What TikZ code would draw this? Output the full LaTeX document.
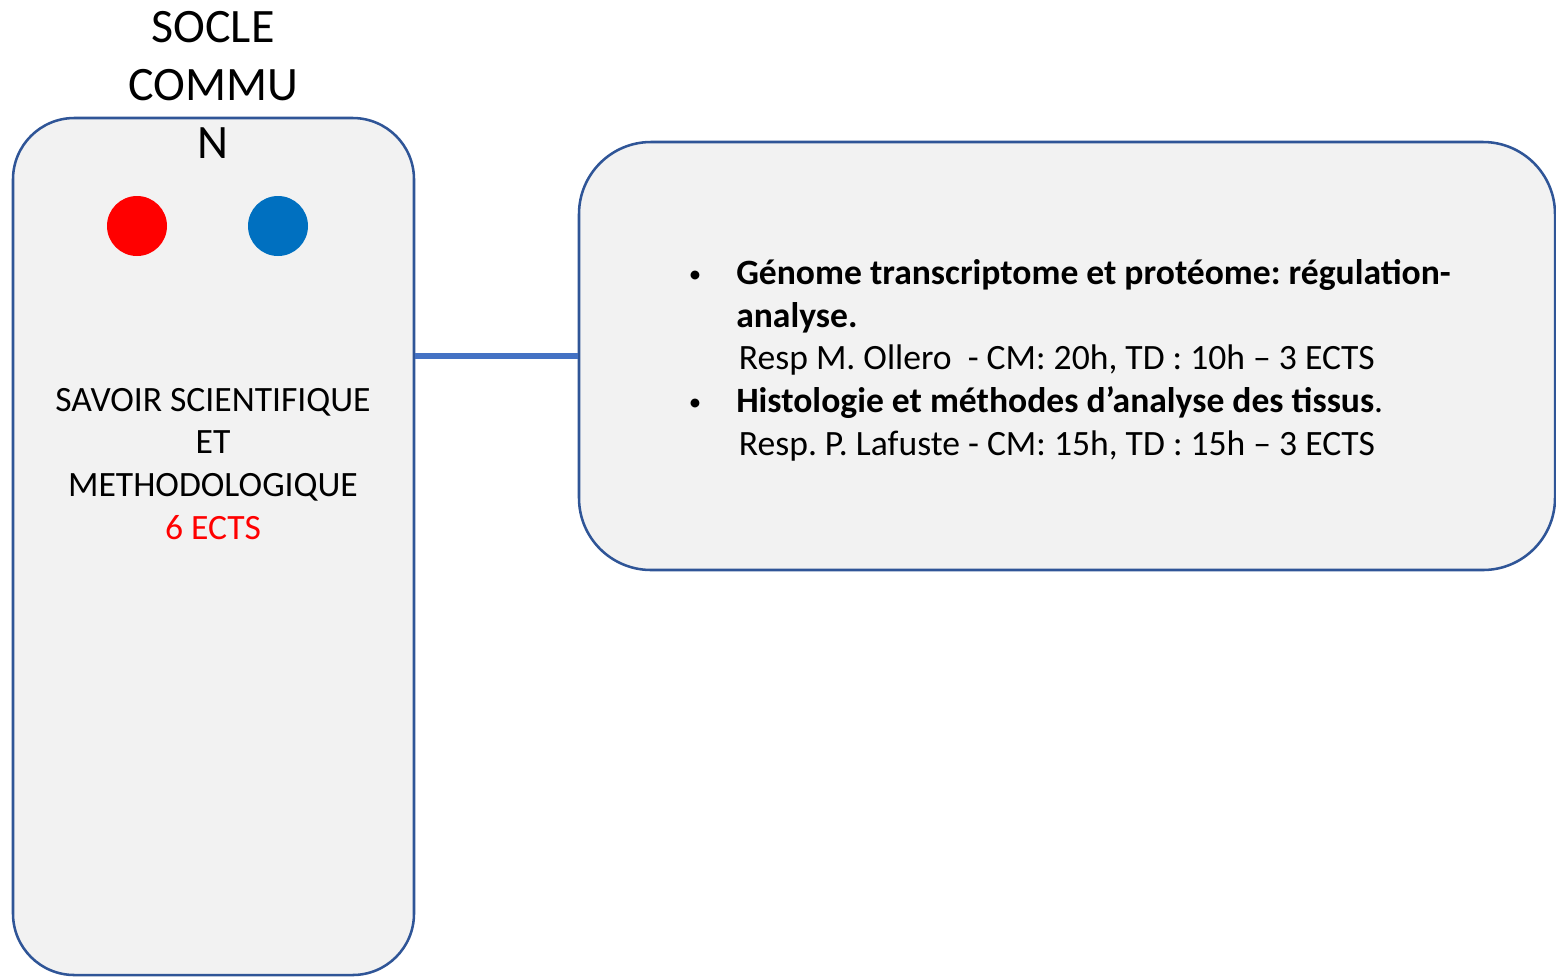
\documentclass[tikz,border=0pt]{standalone}
\usepackage{fontspec}
\setmainfont{Carlito}
\usepackage{xcolor}
\usepackage{tikz}
\usetikzlibrary{positioning}
\definecolor{kastenrand}{HTML}{2F5597}
\definecolor{kastenfuell}{HTML}{F2F2F2}
\definecolor{linienblau}{HTML}{4472C4}
\definecolor{punktrot}{HTML}{FF0000}
\definecolor{punktblau}{HTML}{0070C0}
\newcommand{\puce}{\makebox[37.5pt][l]{\hspace*{2pt}\raisebox{1.5pt}{\scalebox{0.7}{\textbullet}}}}
\newcommand{\retrait}{\hspace*{37.5pt}}
\frenchspacing
\tikzset{kasten/.style={draw=kastenrand, line width=1.9pt, fill=kastenfuell, rounded corners=#1},
         verbindung/.style={draw=linienblau, line width=5.2pt},
         schrift/.style={font=\fontsize{26.7}{32}\selectfont, inner sep=0pt}}

\begin{document}
\begin{tikzpicture}[x=0.75pt, y=-0.75pt]
\useasboundingbox (0,0) rectangle (1556,976);
% Die Kaesten:
\node[kasten=46pt, minimum width=300.75pt, minimum height=642.75pt] (socle) at (213.5,546.5) {};
\node[kasten=54pt, minimum width=732pt, minimum height=321pt] (ue) at (1067,356) {};
\draw[verbindung] (socle.east |- ue.west) -- (ue.west);
% Die Punkte:
\foreach \x/\farbe/\name in {137/punktrot/rot, 278/punktblau/blau}
  \node[circle, fill=\farbe, minimum size=45pt, inner sep=0pt] (\name) at (\x,226) {};
% Die Texte (Grundlinie der letzten Zeile):
\node[schrift, font=\fontsize{36}{43.5}\selectfont, align=center, anchor=base] (titel) at (213,158) {SOCLE\\COMMU\\N};
\node[schrift, align=center, anchor=base] (savoir) at (213,539)
  {SAVOIR SCIENTIFIQUE\\ET\\METHODOLOGIQUE\\\textcolor{punktrot}{6 ECTS}};
\node[schrift, align=left, anchor=base west] (liste) at (686,455)
  {\puce\textbf{Génome transcriptome et protéome: régulation-}\\
   \retrait\textbf{analyse.}\\
   \retrait\hspace*{2pt}Resp M. Ollero~ - CM: 20h, TD : 10h – 3 ECTS\\
   \puce\textbf{Histologie et méthodes d’analyse des tissus}.\\
   \retrait\hspace*{2pt}Resp. P. Lafuste - CM: 15h, TD : 15h – 3 ECTS};
\end{tikzpicture}
\end{document}
